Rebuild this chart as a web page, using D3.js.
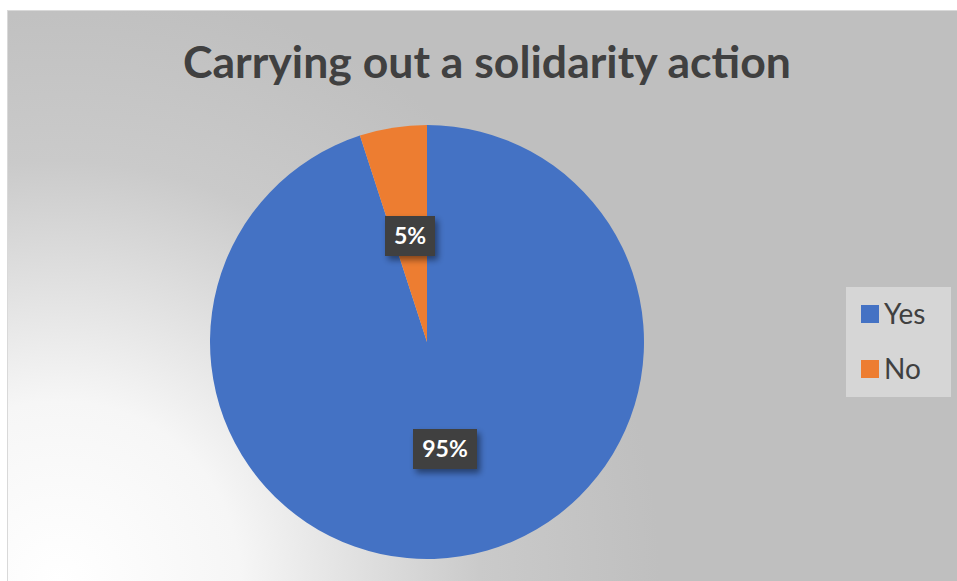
<!DOCTYPE html>
<html><head><meta charset="utf-8">
<script src="https://cdn.jsdelivr.net/npm/d3@7"></script>
<style>html,body{margin:0;padding:0;background:#fff;}svg{display:block;}</style>
</head><body>
<svg id="c" width="957" height="581"></svg>
<script>
const categories = ["Yes", "No"];
const values = [95, 5];
const labels = ["95%", "5%"];
const colors = ["#4472C4", "#ED7D31"];
const title = "Carrying out a solidarity action";

const svg = d3.select("#c");
const defs = svg.append("defs");
const rg = defs.append("radialGradient").attr("id","bg")
  .attr("gradientUnits","userSpaceOnUse").attr("cx",60).attr("cy",581).attr("r",600);
rg.append("stop").attr("offset","0").attr("stop-color","#ffffff");
rg.append("stop").attr("offset","0.3").attr("stop-color","#f6f6f6");
rg.append("stop").attr("offset","0.7").attr("stop-color","#cacaca");
rg.append("stop").attr("offset","1").attr("stop-color","#bfbfbf");

const sh = defs.append("filter").attr("id","sh").attr("x","-30%").attr("y","-30%").attr("width","160%").attr("height","160%");
sh.append("feDropShadow").attr("dx",3).attr("dy",4).attr("stdDeviation",3).attr("flood-color","#000").attr("flood-opacity",0.45);

svg.append("rect").attr("x",7.5).attr("y",10.5).attr("width",957).attr("height",600)
  .attr("fill","url(#bg)").attr("stroke","#d9d9d9").attr("stroke-width",1);

const t = svg.append("text").attr("x",487).attr("y",78).attr("text-anchor","middle")
  .attr("font-family","Lato, 'Open Sans', sans-serif").attr("font-weight","bold")
  .attr("font-size",43).attr("fill","#404040").text(title);
t.attr("textLength",608).attr("lengthAdjust","spacingAndGlyphs");

const cx = 427, cy = 342, R = 217;
const pie = d3.pie().sort(null).value(d => d)(values);
const arc = d3.arc().innerRadius(0).outerRadius(R);
const g = svg.append("g").attr("transform",`translate(${cx},${cy})`);
g.selectAll("path").data(pie).join("path").attr("d",arc).attr("fill",(d,i)=>colors[i]);

const labelPos = [[445,449],[410,236]];
pie.forEach((d,i)=>{
  const [x,y] = labelPos[i];
  const lg = svg.append("g").attr("transform",`translate(${x},${y})`);
  const w = labels[i].length*14+22, h = 40;
  lg.append("rect").attr("x",-w/2).attr("y",-h/2).attr("width",w).attr("height",h)
    .attr("fill","#404040").attr("filter","url(#sh)");
  lg.append("text").attr("text-anchor","middle").attr("dy","0.36em")
    .attr("font-family","Lato, 'Open Sans', sans-serif").attr("font-weight","bold")
    .attr("font-size",23).attr("fill","#ffffff").text(labels[i]);
});

const leg = svg.append("g");
leg.append("rect").attr("x",846).attr("y",287).attr("width",105).attr("height",110).attr("fill","#d6d6d6");
categories.forEach((c,i)=>{
  const y = 314 + i*55;
  leg.append("rect").attr("x",861).attr("y",y-9).attr("width",18).attr("height",18).attr("fill",colors[i]);
  leg.append("text").attr("x",884).attr("y",y).attr("dy","0.36em")
    .attr("font-family","Lato, 'Open Sans', sans-serif").attr("font-size",28).attr("fill","#404040").text(c);
});
</script>
</body></html>
